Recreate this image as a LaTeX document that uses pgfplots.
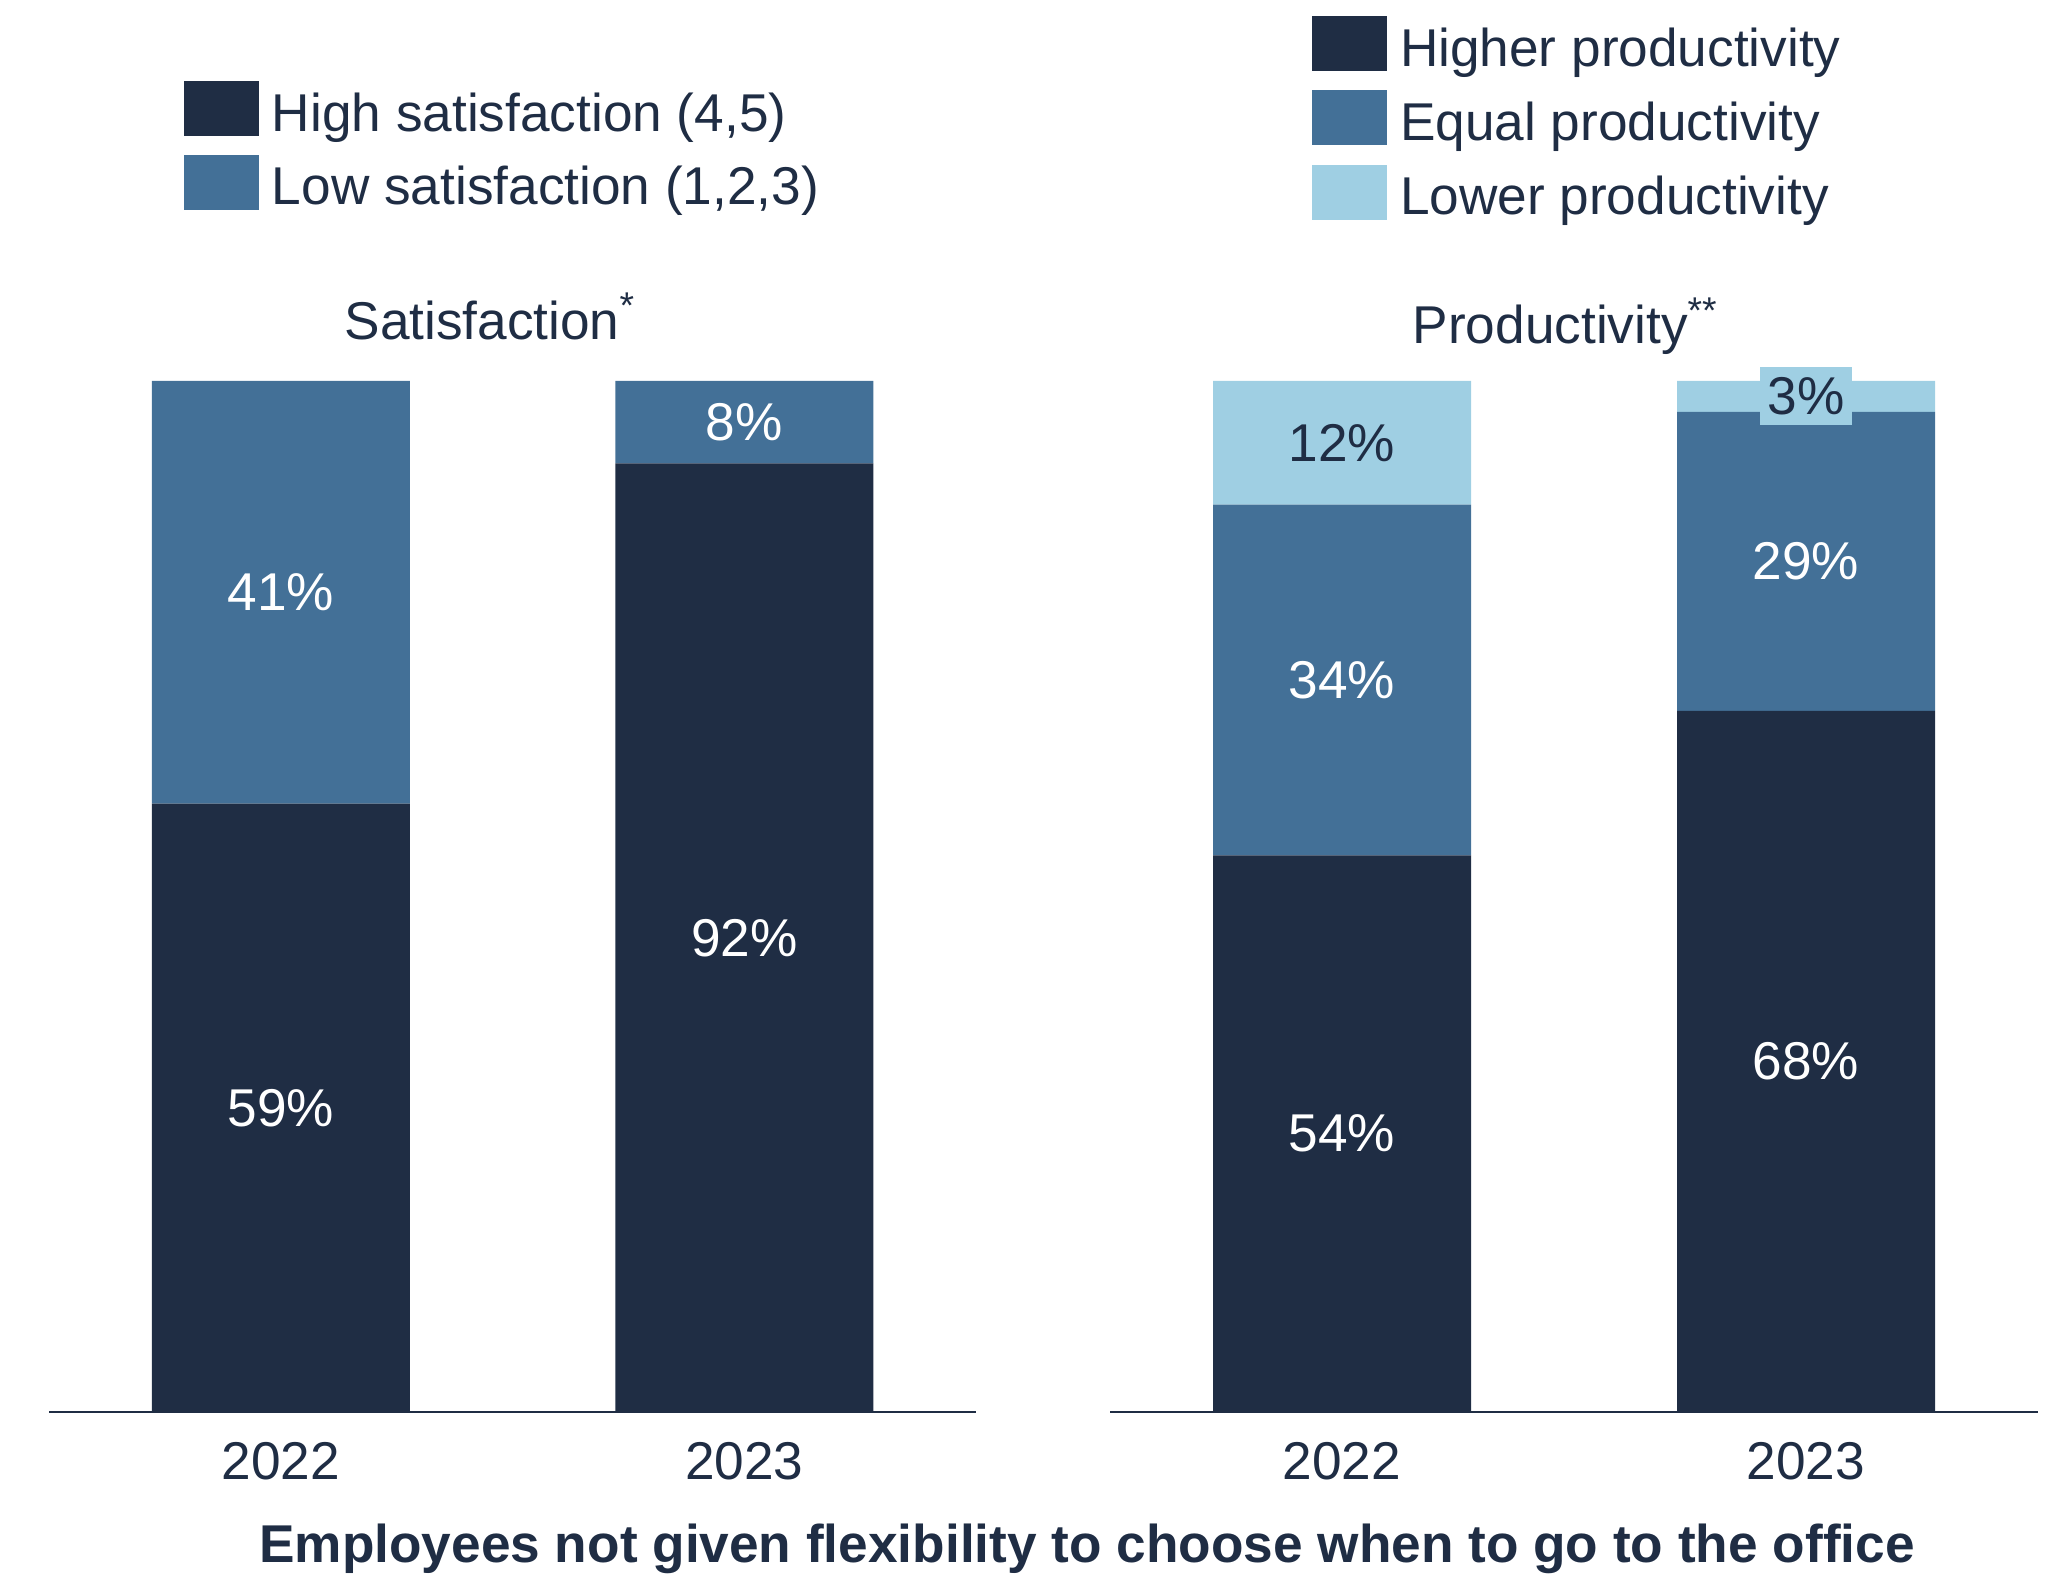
\documentclass[border=0pt]{standalone}
\usepackage{fontspec}
\setmainfont{Liberation Sans}
\usepackage{pgfplots}
\pgfplotsset{compat=1.18}
\definecolor{cdark}{RGB}{31,45,68}
\definecolor{cmid}{RGB}{67,112,151}
\definecolor{clight}{RGB}{159,207,227}
\newcommand{\fs}{\fontsize{13.3}{16}\selectfont}
\pgfplotsset{
  sqleg/.style={legend image code/.code={\fill[##1] (0pt,-1.235pt) rectangle (18.75pt,12.515pt);}},
  mygeom/.style={
    scale only axis, height=257.75pt,
    xmin=-0.5, xmax=1.5, ymin=0, ymax=100, enlargelimits=false,
    clip=false, anchor=south west,
  },
  mybar/.style={
    mygeom,
    ybar stacked, bar width=64.5pt,
    axis y line=none, axis x line*=bottom,
    x axis line style={-, draw=cdark, line width=0.6pt},
    xtick={0,1}, xticklabels={2022,2023}, major tick length=0pt,
    xticklabel style={anchor=base, yshift=-17pt, inner sep=0pt, text=cdark, font=\fs},
    legend style={draw=none, fill=none, inner sep=0pt, outer sep=0pt, anchor=north west,
      column sep=1.25pt, font=\fs, cells={anchor=base west, inner sep=0pt, text=cdark}},
    every axis plot post/.append style={sqleg},
    title style={anchor=base west, inner sep=0pt, yshift=-6pt, text=cdark, font=\fs},
  },
  mylab/.style={mygeom, hide axis},
}
\begin{document}
\begin{tikzpicture}[font=\fs]
\useasboundingbox (0,0) rectangle (514.5pt,393.75pt);
% Left: Satisfaction
\begin{axis}[mybar, at={(12.25pt,40.75pt)}, width=231.75pt,
  title={Satisfaction\textsuperscript{*}}, title style={at={(0.318,1.0407)}},
  legend style={at={(0.1456,1.2910)}, row sep=2.4pt}]
\addplot[fill=cdark, draw=none] coordinates {(0,59) (1,92)};
\addlegendentry{High satisfaction (4,5)}
\addplot[fill=cmid, draw=none] coordinates {(0,41) (1,8)};
\addlegendentry{Low satisfaction (1,2,3)}
\end{axis}
\begin{axis}[mylab, at={(12.25pt,40.75pt)}, width=231.75pt]
\node[text=white] at (axis cs:0,29.5) {59\%};
\node[text=white] at (axis cs:0,79.5) {41\%};
\node[text=white] at (axis cs:1,46) {92\%};
\node[text=white] at (axis cs:1,96) {8\%};
\end{axis}
% Right: Productivity
\begin{axis}[mybar, at={(277.5pt,40.75pt)}, width=232pt,
  title={Productivity\textsuperscript{**}}, title style={at={(0.3254,1.0359)}},
  legend style={at={(0.2177,1.354)}, row sep=2.6pt}]
\addplot[fill=cdark, draw=none] coordinates {(0,54) (1,68)};
\addlegendentry{Higher productivity}
\addplot[fill=cmid, draw=none] coordinates {(0,34) (1,29)};
\addlegendentry{Equal productivity}
\addplot[fill=clight, draw=none] coordinates {(0,12) (1,3)};
\addlegendentry{Lower productivity}
\end{axis}
\begin{axis}[mylab, at={(277.5pt,40.75pt)}, width=232pt]
\node[text=white] at (axis cs:0,27) {54\%};
\node[text=white] at (axis cs:0,71) {34\%};
\node[text=cdark] at (axis cs:0,94) {12\%};
\node[text=white] at (axis cs:1,34) {68\%};
\node[text=white] at (axis cs:1,82.5) {29\%};
\node[fill=clight, text=cdark, inner xsep=2pt, inner ysep=0pt, minimum height=14.5pt] at (axis cs:1,98.5) {3\%};
\end{axis}
\node[anchor=base, inner sep=0pt, text=cdark, font=\fs\bfseries] at (271.75pt,3pt)
  {Employees not given flexibility to choose when to go to the office};
\end{tikzpicture}
\end{document}
